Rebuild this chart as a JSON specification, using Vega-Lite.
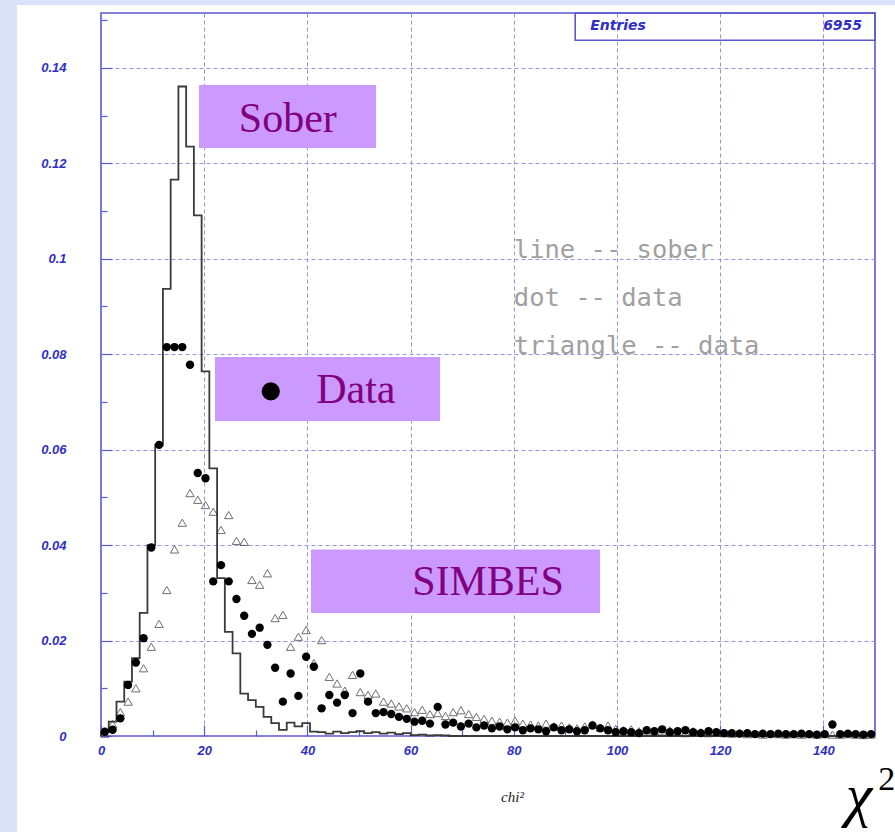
{
  "$schema": "https://vega.github.io/schema/vega-lite/v6.json",
  "width": 774,
  "height": 723,
  "autosize": {"type": "none"},
  "padding": {"left": 101, "top": 13, "right": 20, "bottom": 96},
  "background": "white",
  "config": {"view": {"stroke": "#5a5acd", "strokeWidth": 1.6, "fill": "white"}},
  "datasets": {
    "sober": [
      {"edge": 0, "val": 0}, {"edge": 0, "val": 0.0008}, {"edge": 1.5, "val": 0.0030}, {"edge": 3, "val": 0.0072},
      {"edge": 4.5, "val": 0.0114}, {"edge": 6, "val": 0.0163}, {"edge": 7.5, "val": 0.0258}, {"edge": 9, "val": 0.0400},
      {"edge": 10.5, "val": 0.0610}, {"edge": 12, "val": 0.0937}, {"edge": 13.5, "val": 0.1166}, {"edge": 15, "val": 0.1361},
      {"edge": 16.5, "val": 0.1235}, {"edge": 18, "val": 0.1091}, {"edge": 19.5, "val": 0.0764}, {"edge": 21, "val": 0.0561},
      {"edge": 22.5, "val": 0.0331}, {"edge": 24, "val": 0.0218}, {"edge": 25.5, "val": 0.0173}, {"edge": 27, "val": 0.0089},
      {"edge": 28.5, "val": 0.0075}, {"edge": 30, "val": 0.0061}, {"edge": 31.5, "val": 0.0040}, {"edge": 33, "val": 0.0027},
      {"edge": 34.5, "val": 0.0013}, {"edge": 36, "val": 0.0028}, {"edge": 37.5, "val": 0.0020}, {"edge": 39, "val": 0.0027},
      {"edge": 40.5, "val": 0.0009}, {"edge": 42, "val": 0.0008}, {"edge": 43.5, "val": 0.0005}, {"edge": 45, "val": 0.0009},
      {"edge": 46.5, "val": 0.0006}, {"edge": 48, "val": 0.0008}, {"edge": 49.5, "val": 0.0010}, {"edge": 51, "val": 0.0006},
      {"edge": 52.5, "val": 0.0008}, {"edge": 54, "val": 0.0005}, {"edge": 55.5, "val": 0.0007}, {"edge": 57, "val": 0.0004},
      {"edge": 58.5, "val": 0.0006}, {"edge": 60, "val": 0.0002}, {"edge": 61.5, "val": 0.0003}, {"edge": 63, "val": 0.0001},
      {"edge": 64.5, "val": 0.0002}, {"edge": 66, "val": 0.0001}, {"edge": 67.5, "val": 0}, {"edge": 150, "val": 0}
    ],
    "pts": [
      {"chi2": 0.75, "dot": 0.0009, "tri": 0.0005}, {"chi2": 2.25, "dot": 0.0013, "tri": 0.0025},
      {"chi2": 3.75, "dot": 0.0037, "tri": 0.0050}, {"chi2": 5.25, "dot": 0.0107, "tri": 0.0072},
      {"chi2": 6.75, "dot": 0.0154, "tri": 0.0100}, {"chi2": 8.25, "dot": 0.0205, "tri": 0.0142},
      {"chi2": 9.75, "dot": 0.0395, "tri": 0.0187}, {"chi2": 11.25, "dot": 0.0610, "tri": 0.0235},
      {"chi2": 12.75, "dot": 0.0815, "tri": 0.0306}, {"chi2": 14.25, "dot": 0.0815, "tri": 0.0391},
      {"chi2": 15.75, "dot": 0.0815, "tri": 0.0447}, {"chi2": 17.25, "dot": 0.0778, "tri": 0.0509},
      {"chi2": 18.75, "dot": 0.0551, "tri": 0.0495}, {"chi2": 20.25, "dot": 0.0540, "tri": 0.0484},
      {"chi2": 21.75, "dot": 0.0324, "tri": 0.0470}, {"chi2": 23.25, "dot": 0.0358, "tri": 0.0432},
      {"chi2": 24.75, "dot": 0.0324, "tri": 0.0463}, {"chi2": 26.25, "dot": 0.0287, "tri": 0.0409},
      {"chi2": 27.75, "dot": 0.0252, "tri": 0.0407}, {"chi2": 29.25, "dot": 0.0214, "tri": 0.0327},
      {"chi2": 30.75, "dot": 0.0227, "tri": 0.0317}, {"chi2": 32.25, "dot": 0.0191, "tri": 0.0341},
      {"chi2": 33.75, "dot": 0.0143, "tri": 0.0247}, {"chi2": 35.25, "dot": 0.0072, "tri": 0.0254},
      {"chi2": 36.75, "dot": 0.0131, "tri": 0.0187}, {"chi2": 38.25, "dot": 0.0084, "tri": 0.0208},
      {"chi2": 39.75, "dot": 0.0166, "tri": 0.0222}, {"chi2": 41.25, "dot": 0.0145, "tri": 0.0153},
      {"chi2": 42.75, "dot": 0.0058, "tri": 0.0201}, {"chi2": 44.25, "dot": 0.0086, "tri": 0.0124},
      {"chi2": 45.75, "dot": 0.0070, "tri": 0.0110}, {"chi2": 47.25, "dot": 0.0086, "tri": 0.0095},
      {"chi2": 48.75, "dot": 0.0048, "tri": 0.0128}, {"chi2": 50.25, "dot": 0.0131, "tri": 0.0092},
      {"chi2": 51.75, "dot": 0.0072, "tri": 0.0086}, {"chi2": 53.25, "dot": 0.0048, "tri": 0.0089},
      {"chi2": 54.75, "dot": 0.0050, "tri": 0.0072}, {"chi2": 56.25, "dot": 0.0046, "tri": 0.0068},
      {"chi2": 57.75, "dot": 0.0040, "tri": 0.0062}, {"chi2": 59.25, "dot": 0.0036, "tri": 0.0058},
      {"chi2": 60.75, "dot": 0.0030, "tri": 0.0050}, {"chi2": 62.25, "dot": 0.0032, "tri": 0.0055},
      {"chi2": 63.75, "dot": 0.0026, "tri": 0.0046}, {"chi2": 65.25, "dot": 0.0061, "tri": 0.0048},
      {"chi2": 66.75, "dot": 0.0024, "tri": 0.0042}, {"chi2": 68.25, "dot": 0.0028, "tri": 0.0050},
      {"chi2": 69.75, "dot": 0.0020, "tri": 0.0054}, {"chi2": 71.25, "dot": 0.0026, "tri": 0.0046},
      {"chi2": 72.75, "dot": 0.0018, "tri": 0.0040}, {"chi2": 74.25, "dot": 0.0022, "tri": 0.0036},
      {"chi2": 75.75, "dot": 0.0016, "tri": 0.0032}, {"chi2": 77.25, "dot": 0.0020, "tri": 0.0030},
      {"chi2": 78.75, "dot": 0.0014, "tri": 0.0028}, {"chi2": 80.25, "dot": 0.0018, "tri": 0.0032},
      {"chi2": 81.75, "dot": 0.0012, "tri": 0.0026}, {"chi2": 83.25, "dot": 0.0016, "tri": 0.0024},
      {"chi2": 84.75, "dot": 0.0014, "tri": 0.0022}, {"chi2": 86.25, "dot": 0.0010, "tri": 0.0026},
      {"chi2": 87.75, "dot": 0.0018, "tri": 0.0020}, {"chi2": 89.25, "dot": 0.0012, "tri": 0.0022},
      {"chi2": 90.75, "dot": 0.0014, "tri": 0.0018}, {"chi2": 92.25, "dot": 0.0010, "tri": 0.0016},
      {"chi2": 93.75, "dot": 0.0012, "tri": 0.0020}, {"chi2": 95.25, "dot": 0.0022, "tri": 0.0024},
      {"chi2": 96.75, "dot": 0.0016, "tri": 0.0018}, {"chi2": 98.25, "dot": 0.0012, "tri": 0.0022},
      {"chi2": 99.75, "dot": 0.0008, "tri": 0.0015}, {"chi2": 101.25, "dot": 0.0010, "tri": 0.0012},
      {"chi2": 102.75, "dot": 0.0008, "tri": 0.0014}, {"chi2": 104.25, "dot": 0.0006, "tri": 0.0010},
      {"chi2": 105.75, "dot": 0.0012, "tri": 0.0012}, {"chi2": 107.25, "dot": 0.0010, "tri": 0.0008},
      {"chi2": 108.75, "dot": 0.0014, "tri": 0.0010}, {"chi2": 110.25, "dot": 0.0008, "tri": 0.0012},
      {"chi2": 111.75, "dot": 0.0010, "tri": 0.0008}, {"chi2": 113.25, "dot": 0.0012, "tri": 0.0006},
      {"chi2": 114.75, "dot": 0.0008, "tri": 0.0010}, {"chi2": 116.25, "dot": 0.0006, "tri": 0.0008},
      {"chi2": 117.75, "dot": 0.0010, "tri": 0.0006}, {"chi2": 119.25, "dot": 0.0008, "tri": 0.0008},
      {"chi2": 120.75, "dot": 0.0006, "tri": 0.0006}, {"chi2": 122.25, "dot": 0.0006, "tri": 0.0005},
      {"chi2": 123.75, "dot": 0.0005, "tri": 0.0006}, {"chi2": 125.25, "dot": 0.0006, "tri": 0.0004},
      {"chi2": 126.75, "dot": 0.0004, "tri": 0.0005}, {"chi2": 128.25, "dot": 0.0005, "tri": 0.0003},
      {"chi2": 129.75, "dot": 0.0004, "tri": 0.0005}, {"chi2": 131.25, "dot": 0.0005, "tri": 0.0004},
      {"chi2": 132.75, "dot": 0.0004, "tri": 0.0003}, {"chi2": 134.25, "dot": 0.0004, "tri": 0.0004},
      {"chi2": 135.75, "dot": 0.0005, "tri": 0.0003}, {"chi2": 137.25, "dot": 0.0004, "tri": 0.0004},
      {"chi2": 138.75, "dot": 0.0003, "tri": 0.0003}, {"chi2": 140.25, "dot": 0.0004, "tri": 0.0004},
      {"chi2": 141.75, "dot": 0.0024, "tri": 0.0003}, {"chi2": 143.25, "dot": 0.0004, "tri": 0.0003},
      {"chi2": 144.75, "dot": 0.0005, "tri": 0.0004}, {"chi2": 146.25, "dot": 0.0004, "tri": 0.0003},
      {"chi2": 147.75, "dot": 0.0003, "tri": 0.0002}, {"chi2": 149.25, "dot": 0.0004, "tri": 0.0003}
    ]
  },
  "layer": [
    {
      "data": {"name": "sober"},
      "mark": {"type": "line", "interpolate": "step-after", "color": "#3a3a3a", "strokeWidth": 1.8},
      "encoding": {
        "x": {
          "field": "edge", "type": "quantitative",
          "scale": {"domain": [0, 150], "nice": false, "zero": false},
          "axis": {
            "values": [0, 5, 10, 15, 20, 25, 30, 35, 40, 45, 50, 55, 60, 65, 70, 75, 80, 85, 90, 95, 100, 105, 110, 115, 120, 125, 130, 135, 140, 145],
            "title": "chi²",
            "domain": false,
            "grid": true,
            "gridColor": "#8a8ae0",
            "gridDash": [4, 3],
            "gridWidth": 1,
            "gridOpacity": {"condition": {"test": "datum.value % 20 === 0 && datum.value > 0", "value": 0.9}, "value": 0},
            "ticks": true,
            "tickColor": "#5a5acd",
            "tickWidth": 1.2,
            "tickSize": {"condition": {"test": "datum.value % 20 === 0", "value": -11}, "value": -6},
            "labelExpr": "datum.value % 20 === 0 ? datum.label : ''",
            "labelFont": "Liberation Sans",
            "labelFontWeight": "bold",
            "labelFontStyle": "italic",
            "labelFontSize": 13,
            "labelColor": "#2f2fc8",
            "labelPadding": 19,
            "labelFlush": false,
            "labelOverlap": false,
            "titleFont": "Liberation Serif",
            "titleFontStyle": "italic",
            "titleFontWeight": "normal",
            "titleFontSize": 15,
            "titleColor": "#222222",
            "titleX": 411,
            "titleY": 60,
            "titleBaseline": "middle"
          }
        },
        "y": {
          "field": "val", "type": "quantitative",
          "scale": {"domain": [0, 0.1515], "nice": false, "zero": false},
          "axis": {
            "values": [0, 0.005, 0.01, 0.015, 0.02, 0.025, 0.03, 0.035, 0.04, 0.045, 0.05, 0.055, 0.06, 0.065, 0.07, 0.075, 0.08, 0.085, 0.09, 0.095, 0.1, 0.105, 0.11, 0.115, 0.12, 0.125, 0.13, 0.135, 0.14, 0.145, 0.15],
            "title": null,
            "domain": false,
            "grid": true,
            "gridColor": "#8a8ae0",
            "gridDash": [4, 3],
            "gridWidth": 1,
            "gridOpacity": {"condition": {"test": "round(datum.value * 1000) % 20 === 0 && datum.value > 0", "value": 0.9}, "value": 0},
            "ticks": true,
            "tickColor": "#5a5acd",
            "tickWidth": 1.2,
            "tickSize": {"condition": {"test": "round(datum.value * 1000) % 20 === 0", "value": -11}, "value": -6},
            "labelExpr": "round(datum.value * 1000) % 20 === 0 ? format(datum.value, '~g') : ''",
            "labelFont": "Liberation Sans",
            "labelFontWeight": "bold",
            "labelFontStyle": "italic",
            "labelFontSize": 13,
            "labelColor": "#2f2fc8",
            "labelPadding": 46,
            "labelFlush": false,
            "labelOverlap": false
          }
        }
      }
    },
    {
      "data": {"values": [{}]},
      "mark": {"type": "rect", "color": "#d9e2f9"},
      "encoding": {
        "x": {"datum": -19.6, "type": "quantitative", "scale": {"domain": [0, 150], "nice": false, "zero": false}},
        "x2": {"datum": -16.3},
        "y": {"datum": -0.0202, "type": "quantitative", "scale": {"domain": [0, 0.1515], "nice": false, "zero": false}},
        "y2": {"datum": 0.1545}
      }
    },
    {
      "data": {"values": [{}]},
      "mark": {"type": "rect", "color": "#d9e2f9"},
      "encoding": {
        "x": {"datum": -19.6, "type": "quantitative", "scale": {"domain": [0, 150], "nice": false, "zero": false}},
        "x2": {"datum": 154},
        "y": {"datum": 0.1532, "type": "quantitative", "scale": {"domain": [0, 0.1515], "nice": false, "zero": false}},
        "y2": {"datum": 0.1545}
      }
    },
    {
      "data": {"name": "pts"},
      "mark": {"type": "point", "shape": "triangle-up", "filled": false, "stroke": "#333333", "strokeWidth": 1, "size": 70},
      "encoding": {
        "x": {"field": "chi2", "type": "quantitative", "scale": {"domain": [0, 150], "nice": false, "zero": false}},
        "y": {"field": "tri", "type": "quantitative", "scale": {"domain": [0, 0.1515], "nice": false, "zero": false}}
      }
    },
    {
      "data": {"name": "pts"},
      "mark": {"type": "point", "shape": "circle", "filled": true, "color": "#000000", "opacity": 1, "size": 70},
      "encoding": {
        "x": {"field": "chi2", "type": "quantitative", "scale": {"domain": [0, 150], "nice": false, "zero": false}},
        "y": {"field": "dot", "type": "quantitative", "scale": {"domain": [0, 0.1515], "nice": false, "zero": false}}
      }
    },
    {
      "data": {"values": [{}]},
      "mark": {"type": "rect", "color": "#cc99ff"},
      "encoding": {
        "x": {"datum": 19.0, "type": "quantitative", "scale": {"domain": [0, 150], "nice": false, "zero": false}},
        "x2": {"datum": 53.3},
        "y": {"datum": 0.1232, "type": "quantitative", "scale": {"domain": [0, 0.1515], "nice": false, "zero": false}},
        "y2": {"datum": 0.1364}
      }
    },
    {
      "data": {"values": [{}]},
      "mark": {"type": "text", "text": "Sober", "font": "Liberation Serif", "fontSize": 42, "color": "#800080", "align": "center", "baseline": "alphabetic"},
      "encoding": {
        "x": {"datum": 36.2, "type": "quantitative", "scale": {"domain": [0, 150], "nice": false, "zero": false}},
        "y": {"datum": 0.1266, "type": "quantitative", "scale": {"domain": [0, 0.1515], "nice": false, "zero": false}}
      }
    },
    {
      "data": {"values": [{}]},
      "mark": {"type": "rect", "color": "#cc99ff"},
      "encoding": {
        "x": {"datum": 22.1, "type": "quantitative", "scale": {"domain": [0, 150], "nice": false, "zero": false}},
        "x2": {"datum": 65.7},
        "y": {"datum": 0.0660, "type": "quantitative", "scale": {"domain": [0, 0.1515], "nice": false, "zero": false}},
        "y2": {"datum": 0.0794}
      }
    },
    {
      "data": {"values": [{}]},
      "mark": {"type": "point", "shape": "circle", "filled": true, "color": "#000000", "opacity": 1, "size": 330},
      "encoding": {
        "x": {"datum": 32.9, "type": "quantitative", "scale": {"domain": [0, 150], "nice": false, "zero": false}},
        "y": {"datum": 0.0722, "type": "quantitative", "scale": {"domain": [0, 0.1515], "nice": false, "zero": false}}
      }
    },
    {
      "data": {"values": [{}]},
      "mark": {"type": "text", "text": "Data", "font": "Liberation Serif", "fontSize": 42, "color": "#800080", "align": "left", "baseline": "alphabetic"},
      "encoding": {
        "x": {"datum": 41.7, "type": "quantitative", "scale": {"domain": [0, 150], "nice": false, "zero": false}},
        "y": {"datum": 0.0697, "type": "quantitative", "scale": {"domain": [0, 0.1515], "nice": false, "zero": false}}
      }
    },
    {
      "data": {"values": [{}]},
      "mark": {"type": "rect", "color": "#cc99ff"},
      "encoding": {
        "x": {"datum": 40.7, "type": "quantitative", "scale": {"domain": [0, 150], "nice": false, "zero": false}},
        "x2": {"datum": 96.7},
        "y": {"datum": 0.0258, "type": "quantitative", "scale": {"domain": [0, 0.1515], "nice": false, "zero": false}},
        "y2": {"datum": 0.0391}
      }
    },
    {
      "data": {"values": [{}]},
      "mark": {"type": "text", "text": "SIMBES", "font": "Liberation Serif", "fontSize": 42, "color": "#800080", "align": "center", "baseline": "alphabetic"},
      "encoding": {
        "x": {"datum": 75.0, "type": "quantitative", "scale": {"domain": [0, 150], "nice": false, "zero": false}},
        "y": {"datum": 0.0295, "type": "quantitative", "scale": {"domain": [0, 0.1515], "nice": false, "zero": false}}
      }
    },
    {
      "data": {"values": [{}]},
      "mark": {"type": "text", "text": "line -- sober", "font": "DejaVu Sans Mono", "fontSize": 25.5, "color": "#a0a0a0", "align": "left", "baseline": "middle"},
      "encoding": {
        "x": {"datum": 80.0, "type": "quantitative", "scale": {"domain": [0, 150], "nice": false, "zero": false}},
        "y": {"datum": 0.1018, "type": "quantitative", "scale": {"domain": [0, 0.1515], "nice": false, "zero": false}}
      }
    },
    {
      "data": {"values": [{}]},
      "mark": {"type": "text", "text": "dot -- data", "font": "DejaVu Sans Mono", "fontSize": 25.5, "color": "#a0a0a0", "align": "left", "baseline": "middle"},
      "encoding": {
        "x": {"datum": 80.0, "type": "quantitative", "scale": {"domain": [0, 150], "nice": false, "zero": false}},
        "y": {"datum": 0.0918, "type": "quantitative", "scale": {"domain": [0, 0.1515], "nice": false, "zero": false}}
      }
    },
    {
      "data": {"values": [{}]},
      "mark": {"type": "text", "text": "triangle -- data", "font": "DejaVu Sans Mono", "fontSize": 25.5, "color": "#a0a0a0", "align": "left", "baseline": "middle"},
      "encoding": {
        "x": {"datum": 80.0, "type": "quantitative", "scale": {"domain": [0, 150], "nice": false, "zero": false}},
        "y": {"datum": 0.0817, "type": "quantitative", "scale": {"domain": [0, 0.1515], "nice": false, "zero": false}}
      }
    },
    {
      "data": {"values": [{}]},
      "mark": {"type": "rect", "filled": false, "stroke": "#5a5acd", "strokeWidth": 1.6},
      "encoding": {
        "x": {"datum": 91.9, "type": "quantitative", "scale": {"domain": [0, 150], "nice": false, "zero": false}},
        "x2": {"datum": 150},
        "y": {"datum": 0.1458, "type": "quantitative", "scale": {"domain": [0, 0.1515], "nice": false, "zero": false}},
        "y2": {"datum": 0.1515}
      }
    },
    {
      "data": {"values": [{}]},
      "mark": {"type": "text", "text": "Entries", "font": "DejaVu Sans", "fontWeight": "bold", "fontStyle": "italic", "fontSize": 14, "color": "#2f2fc8", "align": "left", "baseline": "middle"},
      "encoding": {
        "x": {"datum": 94.8, "type": "quantitative", "scale": {"domain": [0, 150], "nice": false, "zero": false}},
        "y": {"datum": 0.1487, "type": "quantitative", "scale": {"domain": [0, 0.1515], "nice": false, "zero": false}}
      }
    },
    {
      "data": {"values": [{}]},
      "mark": {"type": "text", "text": "6955", "font": "DejaVu Sans", "fontWeight": "bold", "fontStyle": "italic", "fontSize": 14, "color": "#2f2fc8", "align": "right", "baseline": "middle"},
      "encoding": {
        "x": {"datum": 147.5, "type": "quantitative", "scale": {"domain": [0, 150], "nice": false, "zero": false}},
        "y": {"datum": 0.1487, "type": "quantitative", "scale": {"domain": [0, 0.1515], "nice": false, "zero": false}}
      }
    },
    {
      "data": {"values": [{}]},
      "mark": {"type": "text", "text": "χ", "font": "Liberation Serif", "fontStyle": "italic", "fontSize": 60, "color": "#000000", "align": "center", "baseline": "alphabetic"},
      "encoding": {
        "x": {"datum": 146.9, "type": "quantitative", "scale": {"domain": [0, 150], "nice": false, "zero": false}},
        "y": {"datum": -0.0166, "type": "quantitative", "scale": {"domain": [0, 0.1515], "nice": false, "zero": false}}
      }
    },
    {
      "data": {"values": [{}]},
      "mark": {"type": "text", "text": "2", "font": "Liberation Serif", "fontSize": 34, "color": "#000000", "align": "center", "baseline": "alphabetic"},
      "encoding": {
        "x": {"datum": 152.3, "type": "quantitative", "scale": {"domain": [0, 150], "nice": false, "zero": false}},
        "y": {"datum": -0.0113, "type": "quantitative", "scale": {"domain": [0, 0.1515], "nice": false, "zero": false}}
      }
    }
  ]
}
